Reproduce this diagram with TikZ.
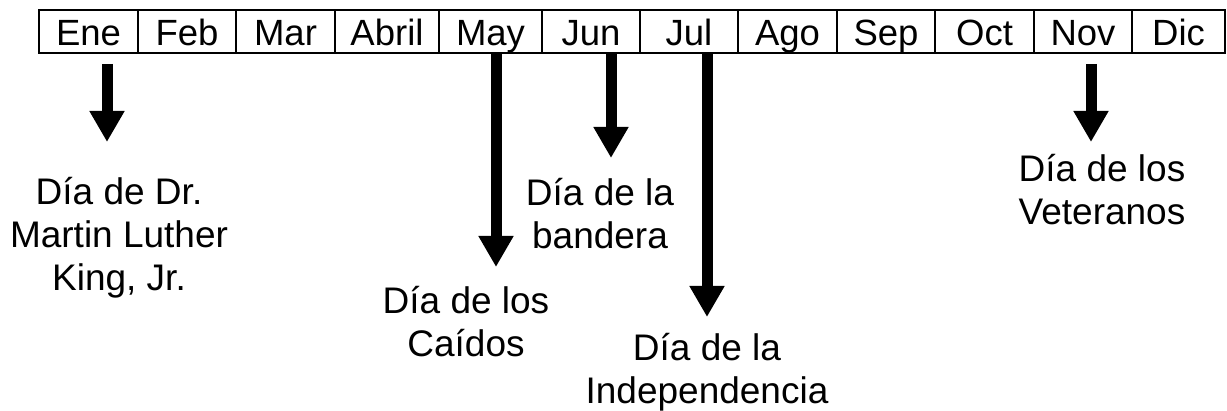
\documentclass[tikz,border=0pt]{standalone}
\usepackage{fontspec}
\setmainfont{Liberation Sans}
\usetikzlibrary{arrows.meta}
\begin{document}
\begin{tikzpicture}[x=1pt,y=-1pt,
  cell/.style={draw,line width=2pt,inner sep=0pt,minimum height=43pt,text height=32pt,text depth=3pt,font=\fontsize{36.5}{40}\selectfont},
  lbl/.style={align=center,inner sep=0pt,anchor=base,font=\fontsize{37}{43}\selectfont},
  bigarrow/.style={line width=11pt,-{Triangle[length=31pt 0 0,width=33pt 0 0]}}]
\useasboundingbox (0,0) rectangle (1227,411);
% month cells
\node[cell,minimum width=99pt]  (ene) at (88.5,31.5)  {Ene};
\node[cell,minimum width=98pt]  (feb) at (187,31.5)   {Feb};
\node[cell,minimum width=99pt]  (mar) at (285.5,31.5) {Mar};
\node[cell,minimum width=104pt] (abr) at (387,31.5)   {Abril};
\node[cell,minimum width=103pt] (may) at (490.5,31.5) {May};
\node[cell,minimum width=98pt]  (jun) at (591,31.5)   {Jun};
\node[cell,minimum width=98pt]  (jul) at (689,31.5)   {Jul};
\node[cell,minimum width=99pt]  (ago) at (787.5,31.5) {Ago};
\node[cell,minimum width=98pt]  (sep) at (886,31.5)   {Sep};
\node[cell,minimum width=99pt]  (oct) at (984.5,31.5) {Oct};
\node[cell,minimum width=98pt]  (nov) at (1083,31.5)  {Nov};
\node[cell,minimum width=93pt]  (dic) at (1178.5,31.5){Dic};
% labels (base anchor = baseline of last line)
\node[lbl] (mlk) at (119,291)  {Día de Dr.\\Martin Luther\\King, Jr.};
\node[lbl] (cai) at (466,357)  {Día de los\\Caídos};
\node[lbl] (ban) at (600,249)  {Día de la\\bandera};
\node[lbl] (ind) at (707,404)  {Día de la\\Independencia};
\node[lbl] (vet) at (1102,225) {Día de los\\Veteranos};
% arrow ends
\coordinate (eneS) at (107,64);   \coordinate (eneE) at (107,142);
\coordinate (mayS) at (496,53);   \coordinate (mayE) at (496,267);
\coordinate (junS) at (611,53);   \coordinate (junE) at (611,158);
\coordinate (julS) at (707,53);   \coordinate (julE) at (707,317);
\coordinate (novS) at (1091,64);  \coordinate (novE) at (1091,142);
\draw[bigarrow] (eneS) -- (eneE);
\draw[bigarrow] (mayS) -- (mayE);
\draw[bigarrow] (junS) -- (junE);
\draw[bigarrow] (julS) -- (julE);
\draw[bigarrow] (novS) -- (novE);
\end{tikzpicture}
\end{document}
